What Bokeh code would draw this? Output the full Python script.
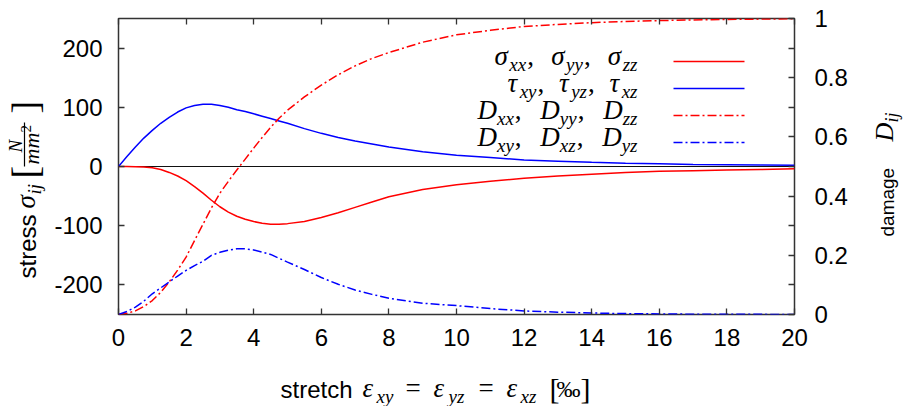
import math
from bokeh.plotting import figure
from bokeh.layouts import row, column
from bokeh.models import (Range1d, LinearAxis, FixedTicker, Span, Label,
                          Arrow)
from bokeh.embed import file_html
from bokeh.resources import INLINE

# ---------------- data ----------------
strain = [0, 0.25, 0.5, 0.75, 1, 1.25, 1.5, 1.75, 2, 2.25, 2.5, 2.75, 3,
          3.25, 3.5, 3.75, 4, 4.25, 4.5, 4.75, 5, 5.5, 6, 6.5, 7, 7.5, 8,
          9, 10, 11, 12, 13, 14, 15, 16, 17, 18, 19, 20]
sigma_normal = [0, 0, -0.5, -1, -2, -5, -10, -16, -24, -34, -45, -57, -68,
                -77, -84, -89, -93, -96, -97.5, -97.5, -96.5, -93, -86, -78,
                -69, -60, -51, -39, -31, -25, -20, -16, -13, -10, -8, -7,
                -6, -5, -4]
tau_shear = [0, 17, 33, 48, 61, 73, 83, 92, 99, 103, 105, 105, 103, 100, 96,
             93, 89, 85, 81, 77, 73, 64, 56, 49, 43, 38, 33, 25, 19, 15, 11,
             9, 7, 5.5, 4.5, 3.5, 3, 2.5, 2]
damage_normal = [0, 0.004, 0.012, 0.027, 0.047, 0.075, 0.11, 0.15, 0.194,
                 0.25, 0.305, 0.36, 0.41, 0.45, 0.488, 0.525, 0.562, 0.598,
                 0.632, 0.663, 0.69, 0.735, 0.775, 0.81, 0.84, 0.865, 0.885,
                 0.92, 0.945, 0.96, 0.973, 0.98, 0.986, 0.99, 0.993, 0.995,
                 0.997, 0.998, 0.999]
damage_shear = [0, 0.01, 0.025, 0.045, 0.07, 0.09, 0.11, 0.13, 0.149,
                0.165, 0.18, 0.2, 0.21, 0.217, 0.222, 0.222, 0.218, 0.211,
                0.203, 0.19, 0.177, 0.152, 0.125, 0.102, 0.083, 0.068,
                0.055, 0.038, 0.03, 0.02, 0.012, 0.008, 0.005, 0.003, 0.002,
                0.001, 0.001, 0.0005, 0]

x_ticks = [0, 2, 4, 6, 8, 10, 12, 14, 16, 18, 20]
stress_ticks = [-200, -100, 0, 100, 200]
damage_ticks = [0, 0.2, 0.4, 0.6, 0.8, 1]
damage_minor = [0.1, 0.3, 0.5, 0.7, 0.9]

RED = "#ff0000"
BLUE = "#0000ff"
DASHDOT = "9 3 2 3"
TICK_FONT = "Liberation Sans"

# ---------------- page geometry (px from the top-left of the page) -------
LEFT_W = 46            # strip holding the rotated stress label
MAIN_R = 865           # right edge of the main figure
TOTAL_W = 908
MAIN_H = 362
TOTAL_H = 406
FRAME_L, FRAME_T, FRAME_W, FRAME_H = 118, 18, 676, 296
FRAME_B = FRAME_T + FRAME_H

# ---------------- main figure ----------------
p = figure(frame_width=FRAME_W, frame_height=FRAME_H,
           x_range=Range1d(0, 20), y_range=Range1d(-250, 250),
           min_border_left=FRAME_L - LEFT_W, min_border_top=FRAME_T,
           min_border_right=MAIN_R - FRAME_L - FRAME_W,
           min_border_bottom=MAIN_H - FRAME_B,
           output_backend="svg", toolbar_location=None)
p.extra_y_ranges = {"dmg": Range1d(0, 1)}
p.xgrid.visible = False
p.ygrid.visible = False
p.outline_line_color = "#333333"
p.outline_line_width = 1.5
p.background_fill_color = "white"
p.border_fill_color = "white"


def style_axis(ax, standoff):
    ax.axis_line_color = None
    ax.major_tick_in = 6
    ax.major_tick_out = 0
    ax.minor_tick_in = 0
    ax.minor_tick_out = 0
    ax.major_tick_line_color = "#333333"
    ax.major_tick_line_width = 1.3
    ax.minor_tick_line_color = "#333333"
    ax.minor_tick_line_width = 1.3
    ax.major_label_text_font = TICK_FONT
    ax.major_label_text_font_size = "24px"
    ax.major_label_text_color = "black"
    ax.major_label_standoff = standoff


xa = p.xaxis[0]
xa.ticker = FixedTicker(ticks=x_ticks)
style_axis(xa, 14)
ya = p.yaxis[0]
ya.ticker = FixedTicker(ticks=stress_ticks)
style_axis(ya, 16)
ya.major_label_overrides = {t: str(t) for t in stress_ticks if t < 0}

# mirrored x ticks on the top edge (minor ticks only -> no labels)
top = LinearAxis(ticker=FixedTicker(ticks=[], minor_ticks=x_ticks))
style_axis(top, 0)
top.minor_tick_in = 6
p.add_layout(top, "above")

right = LinearAxis(y_range_name="dmg",
                   ticker=FixedTicker(ticks=damage_ticks,
                                      minor_ticks=damage_minor))
style_axis(right, 20)
right.minor_tick_in = 6
right.major_label_overrides = {0: "0", 1: "1"}
p.add_layout(right, "right")

p.add_layout(Span(location=0, dimension="width", line_color="#111111",
                  line_width=1, level="underlay"))

styles = [dict(line_color=RED, line_width=1.5),
          dict(line_color=BLUE, line_width=1.5),
          dict(line_color=RED, line_width=1.5, line_dash=DASHDOT),
          dict(line_color=BLUE, line_width=1.5, line_dash=DASHDOT)]
p.line(strain, sigma_normal, **styles[0])
p.line(strain, tau_shear, **styles[1])
p.line(strain, damage_normal, y_range_name="dmg", **styles[2])
p.line(strain, damage_shear, y_range_name="dmg", **styles[3])

# ---------------- helper figures for the texts outside the frame ---------


def blank_fig(w, h, top=0, bottom=0):
    f = figure(width=w, height=h, min_border_left=0, min_border_right=0,
               min_border_top=top, min_border_bottom=bottom,
               x_axis_location=None, y_axis_location=None,
               output_backend="svg", toolbar_location=None,
               x_range=Range1d(0, 1), y_range=Range1d(0, 1))
    f.xgrid.visible = False
    f.ygrid.visible = False
    f.outline_line_color = None
    f.background_fill_color = "white"
    f.border_fill_color = "white"
    return f


# side strips share the main frame's vertical borders (rows align frames)
left_fig = blank_fig(LEFT_W, MAIN_H, FRAME_T, MAIN_H - FRAME_B)
right_fig = blank_fig(TOTAL_W - MAIN_R, MAIN_H, FRAME_T, MAIN_H - FRAME_B)
bottom_fig = blank_fig(TOTAL_W, TOTAL_H - MAIN_H)

# (figure, page x of its frame's left edge, page y of its frame's bottom)
MAIN = (p, FRAME_L, FRAME_B)
LEFT = (left_fig, 0, FRAME_B)
RIGHT = (right_fig, MAIN_R, FRAME_B)
BOTTOM = (bottom_fig, 0, TOTAL_H)

FONTS = {"sans": ("Liberation Sans", "normal"),
         "it": ("Liberation Serif", "italic"),
         "rm": ("Liberation Serif", "normal")}
WID = {
    "sans": {"s": .5, "t": .278, "r": .333, "e": .556, "c": .5, "h": .556,
             "d": .556, "a": .556, "m": .833, "g": .556, " ": .278},
    "it": {"x": .444, "y": .444, "z": .389, "i": .278, "j": .278, "D": .722,
           "N": .667, "m": .722, "σ": .55, "τ": .45, "ε": .42, " ": .25},
    "rm": {"[": .333, "]": .333, "=": .564, " ": .25, "‰": 1.0, "2": .5,
           ",": .25},
}
MID = 0.34   # distance from baseline up to the text box middle, in em


def text_width(t, kind, size):
    return sum(WID[kind].get(ch, 0.5) for ch in t) * size


def put(target, t, kind, size, X, Y, angle=0.0):
    """Place a text piece whose baseline starts at page pixel (X, Y)."""
    fig, x0, y1 = target
    font, style = FONTS[kind]
    if angle:
        X = X - MID * size
    else:
        Y = Y - MID * size
    fig.add_layout(Label(x=X - x0, y=y1 - Y, x_units="screen",
                         y_units="screen", text=t, text_font=font,
                         text_font_style=style, text_font_size=f"{size}px",
                         text_align="left", text_baseline="middle",
                         text_color="black", angle=angle))


def rule(target, X1, Y1, X2, Y2, **style):
    """A plain line segment between two page pixels (no arrow heads)."""
    fig, x0, y1 = target
    fig.add_layout(Arrow(x_start=X1 - x0, y_start=y1 - Y1,
                         x_end=X2 - x0, y_end=y1 - Y2,
                         start_units="screen", end_units="screen",
                         end=None, **style))


# ---------------- legend (text right-aligned, sample line to the right) ---
M, S, DR = 27, 19, 5


def legend_row(main, subs, X_left, X_right, Y, style):
    ma = text_width(main, "it", M)
    sa = [text_width(sb, "it", S) for sb in subs]
    sep = (X_right - X_left - len(subs) * ma - sum(sa)) / (len(subs) - 1)
    x = X_left
    for i, sb in enumerate(subs):
        put(MAIN, main, "it", M, x, Y)
        put(MAIN, sb, "it", S, x + ma, Y + DR)
        x += ma + sa[i]
        if i < len(subs) - 1:
            put(MAIN, ",", "rm", M, x + 1, Y)
            x += sep
    rule(MAIN, 673, Y - 4, 744, Y - 4, **style)


legend_row("σ", ["xx", "yy", "zz"], 494, 637, 65, styles[0])
legend_row("τ", ["xy", "yz", "xz"], 507, 637, 92, styles[1])
legend_row("D", ["xx", "yy", "zz"], 477, 637, 119, styles[2])
legend_row("D", ["xy", "xz", "yz"], 477, 637, 146, styles[3])

# ---------------- x-axis label ----------------
XB = 397
for t, k, s, d, X in [("stretch", "sans", 24, 0, 280),
                      ("ε", "it", 27, 0, 362), ("xy", "it", 19, 5, 376),
                      ("=", "rm", 27, 0, 405),
                      ("ε", "it", 27, 0, 433), ("yz", "it", 19, 5, 448),
                      ("=", "rm", 27, 0, 478),
                      ("ε", "it", 27, 0, 506), ("xz", "it", 19, 5, 520),
                      ("[", "rm", 30, 1, 549), ("‰", "rm", 24, 0, 556),
                      ("]", "rm", 30, 1, 580)]:
    put(BOTTOM, t, k, s, X, XB + d)

# ---------------- left axis label (rotated, reads upward) ----------------
LB = 35
for t, k, s, d, Y in [("stress", "sans", 24, 0, 278),
                      ("σ", "it", 27, 0, 208), ("ij", "it", 19, 5, 194),
                      ("[", "rm", 38, 2, 178),
                      ("N", "it", 19, -14, 152),
                      ("mm", "it", 22, 3, 164), ("2", "rm", 15, -4, 132),
                      ("]", "rm", 38, 2, 113)]:
    put(LEFT, t, k, s, LB + d, Y, angle=math.pi / 2)
# fraction bar of N / mm^2
rule(LEFT, LB - 11, 166, LB - 11, 122, line_color="black", line_width=1.2)

# ---------------- right axis label (rotated, reads upward) ----------------
RB = 893
for t, k, s, d, Y in [("damage", "sans", 19, 0, 236),
                      ("D", "it", 26, 0, 141), ("ij", "it", 18, 5, 122)]:
    put(RIGHT, t, k, s, RB + d, Y, angle=math.pi / 2)

layout = column(row(left_fig, p, right_fig), bottom_fig)
open("out.html", "w").write(file_html(layout, INLINE))
